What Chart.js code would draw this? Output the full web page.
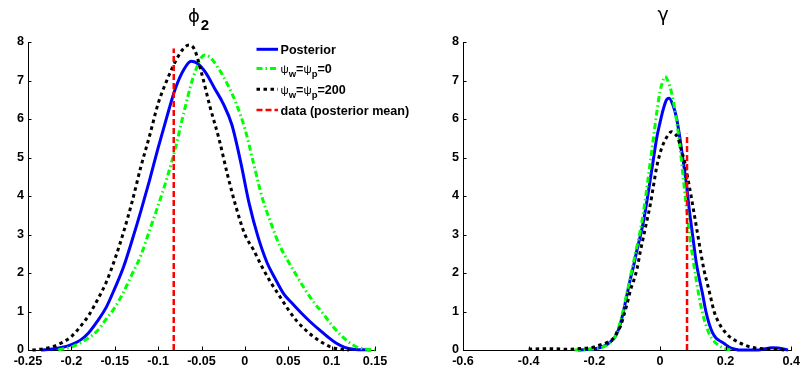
<!DOCTYPE html>
<html><head><meta charset="utf-8">
<script src="https://cdn.jsdelivr.net/npm/chart.js@4.4.1/dist/chart.umd.min.js"></script>
<style>
html,body{margin:0;padding:0;background:#fff;}
#wrap{position:relative;width:804px;height:367px;overflow:hidden;background:#fff;}
canvas{position:absolute;top:0;}
</style></head><body>
<div id="wrap">
<canvas id="c1" width="440" height="367" style="left:0;width:440px;height:367px;z-index:1"></canvas>
<canvas id="c2" width="402" height="367" style="left:402px;width:402px;height:367px;z-index:2"></canvas>
</div>
<script>
// ---------- data (x, density) ----------
const phiPosterior = [[-0.235,0],[-0.22,0.03],[-0.21,0.07],[-0.20,0.14],[-0.19,0.25],[-0.18,0.45],[-0.17,0.75],[-0.16,1.1],[-0.15,1.6],[-0.14,2.15],[-0.13,2.85],[-0.12,3.6],[-0.11,4.4],[-0.10,5.25],[-0.09,6.05],[-0.08,6.8],[-0.07,7.3],[-0.062,7.5],[-0.055,7.45],[-0.045,7.2],[-0.035,6.8],[-0.025,6.4],[-0.015,5.85],[-0.005,4.9],[0.005,3.8],[0.015,2.95],[0.025,2.3],[0.035,1.85],[0.045,1.45],[0.055,1.2],[0.065,0.96],[0.075,0.74],[0.085,0.54],[0.095,0.35],[0.105,0.18],[0.115,0.07],[0.125,0.02],[0.145,0]];
const phiPsi0 = [[-0.215,0],[-0.20,0.08],[-0.19,0.18],[-0.18,0.32],[-0.17,0.5],[-0.16,0.8],[-0.15,1.1],[-0.14,1.5],[-0.13,1.97],[-0.12,2.45],[-0.11,3.1],[-0.10,3.75],[-0.09,4.45],[-0.08,5.25],[-0.07,6.2],[-0.06,7.05],[-0.05,7.6],[-0.046,7.66],[-0.04,7.6],[-0.03,7.3],[-0.02,6.9],[-0.01,6.4],[0.0,5.75],[0.01,4.85],[0.02,3.95],[0.03,3.3],[0.04,2.72],[0.05,2.3],[0.06,1.92],[0.07,1.55],[0.08,1.22],[0.09,0.95],[0.10,0.65],[0.11,0.4],[0.12,0.2],[0.13,0.07],[0.14,0.02],[0.15,0]];
const phiPsi200 = [[-0.245,0],[-0.23,0.04],[-0.22,0.1],[-0.21,0.2],[-0.20,0.35],[-0.19,0.6],[-0.18,0.9],[-0.17,1.3],[-0.16,1.75],[-0.15,2.35],[-0.14,3.05],[-0.13,3.85],[-0.12,4.75],[-0.11,5.55],[-0.10,6.4],[-0.09,7.0],[-0.08,7.5],[-0.07,7.85],[-0.064,7.92],[-0.058,7.8],[-0.05,7.2],[-0.04,6.3],[-0.03,5.5],[-0.02,4.55],[-0.01,3.7],[0.0,3.0],[0.01,2.6],[0.02,2.15],[0.03,1.75],[0.04,1.4],[0.05,1.05],[0.06,0.75],[0.07,0.52],[0.08,0.33],[0.09,0.18],[0.10,0.07],[0.11,0.02],[0.12,0]];
const phiDataMean = [[-0.082,0],[-0.082,7.83]];

const gamPosterior = [[-0.25,0],[-0.20,0.03],[-0.18,0.07],[-0.16,0.15],[-0.14,0.3],[-0.13,0.45],[-0.12,0.7],[-0.11,1.05],[-0.10,1.45],[-0.09,1.85],[-0.08,2.2],[-0.07,2.6],[-0.06,2.95],[-0.05,3.35],[-0.04,3.85],[-0.03,4.4],[-0.02,4.95],[-0.01,5.5],[0.0,5.9],[0.01,6.25],[0.02,6.5],[0.028,6.54],[0.04,6.35],[0.05,6.05],[0.06,5.55],[0.07,4.95],[0.08,4.35],[0.09,3.6],[0.10,2.95],[0.11,2.3],[0.12,1.85],[0.13,1.45],[0.14,1.0],[0.15,0.68],[0.16,0.45],[0.17,0.32],[0.18,0.25],[0.19,0.2],[0.20,0.14],[0.21,0.08],[0.22,0.04],[0.23,0.02],[0.24,0],[0.30,0],[0.32,0.03],[0.34,0.06],[0.36,0.05],[0.38,0.02],[0.39,0]];
const gamPsi0 = [[-0.26,0],[-0.22,0.02],[-0.18,0.06],[-0.16,0.14],[-0.14,0.3],[-0.13,0.48],[-0.12,0.75],[-0.11,1.1],[-0.10,1.5],[-0.09,1.9],[-0.08,2.3],[-0.07,2.7],[-0.06,3.1],[-0.05,3.6],[-0.04,4.2],[-0.03,4.85],[-0.02,5.5],[-0.01,6.15],[0.0,6.7],[0.01,7.02],[0.015,7.1],[0.03,6.85],[0.04,6.5],[0.05,6.0],[0.06,5.35],[0.07,4.55],[0.08,3.75],[0.09,3.0],[0.10,2.4],[0.11,1.85],[0.12,1.35],[0.13,0.95],[0.14,0.65],[0.15,0.42],[0.16,0.28],[0.17,0.18],[0.18,0.12],[0.19,0.06],[0.20,0.03],[0.21,0.01],[0.22,0]];
const gamPsi200 = [[-0.40,0.02],[-0.36,0.03],[-0.32,0.03],[-0.28,0.02],[-0.24,0.04],[-0.20,0.08],[-0.18,0.14],[-0.16,0.2],[-0.14,0.32],[-0.13,0.48],[-0.12,0.62],[-0.11,0.9],[-0.10,1.2],[-0.09,1.55],[-0.08,1.8],[-0.07,2.1],[-0.06,2.55],[-0.05,2.95],[-0.04,3.35],[-0.03,3.75],[-0.02,4.25],[-0.01,4.75],[0.0,5.1],[0.01,5.35],[0.02,5.52],[0.035,5.67],[0.045,5.62],[0.055,5.5],[0.065,5.2],[0.075,4.9],[0.085,4.45],[0.095,4.0],[0.105,3.5],[0.115,3.0],[0.125,2.5],[0.135,2.05],[0.145,1.7],[0.155,1.35],[0.165,1.0],[0.175,0.78],[0.185,0.62],[0.195,0.5],[0.21,0.36],[0.225,0.27],[0.24,0.2],[0.26,0.12],[0.28,0.07],[0.30,0.04],[0.33,0.03],[0.36,0.02],[0.38,0]];
const gamDataMean = [[0.0825,0],[0.0825,5.62]];

const seriesLabels = ['Posterior','\u03c8w=\u03c8p=0','\u03c8w=\u03c8p=200','data (posterior mean)'];
const panelTitles = ['\u03d5','\u03b3'];
const phiXRange = [-0.25, 0.15, 0.05];
const gamXRange = [-0.6, 0.4, 0.2];
const yRange = [0, 8, 1];

// ---------- styles ----------
const STY = [
  {color:'#0000ff', width:3, dash:[]},
  {color:'#00ff00', width:3, dash:[6,3,1.5,3]},
  {color:'#000000', width:3, dash:[3.5,3.5]},
  {color:'#ff0000', width:2.5, dash:[6,3]}
];
const FONT = '"Liberation Sans", Arial, sans-serif';

function toPts(a){ return a.map(p=>({x:p[0], y:p[1]})); }
function ds(arr, i){
  const s = STY[i];
  return {
    data: toPts(arr), borderColor: s.color, borderWidth: s.width, borderDash: s.dash,
    pointRadius: 0, fill: false, clip: 6, order: 3 - i,
    tension: i === 3 ? 0 : 0.4, cubicInterpolationMode: i === 3 ? 'default' : 'monotone',
    borderCapStyle: 'butt', borderJoinStyle: 'round'
  };
}

function drawInnerTicks(chart){
  const ctx = chart.ctx, xs = chart.scales.x, ys = chart.scales.y, a = chart.chartArea;
  ctx.save();
  ctx.strokeStyle = '#000'; ctx.lineWidth = 1;
  xs.ticks.forEach(t => {
    const px = Math.round(xs.getPixelForValue(t.value)) + 0.5;
    ctx.beginPath(); ctx.moveTo(px, a.bottom); ctx.lineTo(px, a.bottom - 3.5); ctx.stroke();
  });
  ys.ticks.forEach(t => {
    const py = Math.round(ys.getPixelForValue(t.value)) + 0.5;
    ctx.beginPath(); ctx.moveTo(a.left, py); ctx.lineTo(a.left + 3.5, py); ctx.stroke();
  });
  ctx.restore();
}

function drawTitlePhi(ctx){
  ctx.save();
  ctx.fillStyle = '#000';
  ctx.font = '18px "DejaVu Sans", sans-serif';
  const w1 = ctx.measureText(panelTitles[0]).width;
  ctx.font = 'bold 15px ' + FONT;
  const w2 = ctx.measureText('2').width;
  const x0 = 198 - (w1 + w2) / 2;
  ctx.font = '18px "DejaVu Sans", sans-serif';
  ctx.textBaseline = 'alphabetic';
  ctx.fillText(panelTitles[0], x0, 22);
  ctx.font = 'bold 15px ' + FONT;
  ctx.fillText('2', x0 + w1 + 1, 29.5);
  ctx.restore();
}

function drawTitleGamma(ctx){
  ctx.save(); ctx.fillStyle = '#000'; ctx.font = '19px "DejaVu Sans", sans-serif';
  ctx.textAlign = 'center'; ctx.textBaseline = 'alphabetic';
  ctx.fillText(panelTitles[1], 663 - 402, 20.5); ctx.restore();
}

function drawLegend(ctx){
  const rows = [49.3, 68.5, 89.3, 110];
  const x1 = 256.5, x2 = 278, tx = 280.5;
  ctx.save();
  rows.forEach((y, i) => {
    const s = STY[i];
    ctx.strokeStyle = s.color; ctx.lineWidth = s.width; ctx.setLineDash(s.dash); ctx.lineCap = 'butt';
    ctx.beginPath(); ctx.moveTo(x1, y); ctx.lineTo(x2, y); ctx.stroke();
  });
  ctx.setLineDash([]);
  ctx.fillStyle = '#000';
  ctx.textBaseline = 'alphabetic';
  const main = 'bold 12.6px ' + FONT, greek = '11.5px ' + FONT, sub = 'bold 9.5px ' + FONT;
  function parts(y, list){
    let x = tx;
    list.forEach(p => {
      ctx.font = p[1];
      ctx.fillText(p[0], x, y + p[2]);
      x += ctx.measureText(p[0]).width;
    });
  }
  parts(rows[0] + 4.7, [[seriesLabels[0], main, 0]]);
  [[seriesLabels[1], rows[1]], [seriesLabels[2], rows[2]]].forEach(([lab, y]) => {
    const psi = lab[0], w = lab[1], p = lab[4], tail = lab.slice(5);
    parts(y + 4.7, [[psi, greek, 0], [w, sub, 3.5], ['=', main, 0], [psi, greek, 0], [p, sub, 3.5], [tail, main, 0]]);
  });
  parts(rows[3] + 4.7, [[seriesLabels[3], main, 0]]);
  ctx.restore();
}

function makeOpts(xr, padL, padR){
  return {
    responsive: false, animation: false, devicePixelRatio: 1,
    layout: {padding: {left: padL, right: padR, top: 42, bottom: 0}},
    plugins: {legend: {display: false}, tooltip: {enabled: false}, title: {display: false}},
    scales: {
      x: {
        type: 'linear', min: xr[0], max: xr[1],
        grid: {display: false, drawTicks: false},
        border: {display: true, color: '#000', width: 1},
        afterFit: s => { s.height = 17; },
        afterBuildTicks: s => {
          const t = []; const n = Math.round((xr[1] - xr[0]) / xr[2]);
          for (let k = 0; k <= n; k++) t.push({value: +(xr[0] + k * xr[2]).toFixed(4)});
          s.ticks = t;
        },
        ticks: {
          autoSkip: false, maxRotation: 0, minRotation: 0, padding: 4, color: '#000',
          font: {family: FONT, weight: 'bold', size: 12.6},
          callback: v => String(+(+v).toFixed(2))
        }
      },
      y: {
        type: 'linear', min: yRange[0], max: yRange[1],
        grid: {display: false, drawTicks: false},
        border: {display: true, color: '#000', width: 1},
        afterFit: s => { s.width = 28; },
        ticks: {
          stepSize: yRange[2], padding: 4, color: '#000',
          font: {family: FONT, weight: 'bold', size: 12.6},
          callback: v => String(v)
        }
      }
    }
  };
}

new Chart(document.getElementById('c1'), {
  type: 'line',
  data: {datasets: [ds(phiPosterior,0), ds(phiPsi0,1), ds(phiPsi200,2), ds(phiDataMean,3)]},
  options: makeOpts(phiXRange, 0, 65),
  plugins: [{id: 'extrasPhi', afterDraw(chart){ drawInnerTicks(chart); drawTitlePhi(chart.ctx); drawLegend(chart.ctx); }}]
});

new Chart(document.getElementById('c2'), {
  type: 'line',
  data: {datasets: [ds(gamPosterior,0), ds(gamPsi0,1), ds(gamPsi200,2), ds(gamDataMean,3)]},
  options: makeOpts(gamXRange, 33, 10),
  plugins: [{id: 'extrasGam', afterDraw(chart){ drawInnerTicks(chart); drawTitleGamma(chart.ctx); }}]
});
</script>
</body></html>
